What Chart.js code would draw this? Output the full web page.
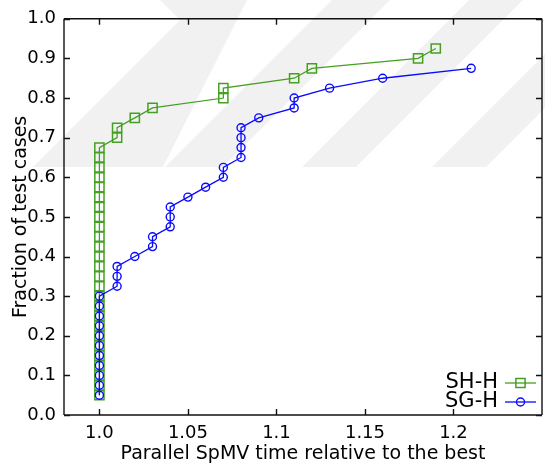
<!DOCTYPE html>
<html>
<head>
<meta charset="utf-8">
<script src="https://cdn.jsdelivr.net/npm/chart.js@4/dist/chart.umd.min.js"></script>
<style>
html, body { margin: 0; padding: 0; background: #fff; overflow: hidden; width: 545px; height: 470px; }
canvas { display: block; }
</style>
</head>
<body>
<canvas id="c" width="550" height="470"></canvas>
<script>
// ---- data ----
const seriesNames = ['SH-H', 'SG-H'];
const shX = [1.0, 1.0, 1.0, 1.0, 1.0, 1.0, 1.0, 1.0, 1.0, 1.0, 1.0, 1.0, 1.0,
             1.0, 1.0, 1.0, 1.0, 1.0, 1.0, 1.0, 1.0, 1.0, 1.0, 1.0, 1.0, 1.0,
             1.01, 1.01, 1.02, 1.03, 1.07, 1.07, 1.11, 1.12, 1.18, 1.19];
const shY = [0.05, 0.075, 0.1, 0.125, 0.15, 0.175, 0.2, 0.225, 0.25, 0.275, 0.3, 0.325, 0.35,
             0.375, 0.4, 0.425, 0.45, 0.475, 0.5, 0.525, 0.55, 0.575, 0.6, 0.625, 0.65, 0.675,
             0.7, 0.725, 0.75, 0.775, 0.8, 0.825, 0.85, 0.875, 0.9, 0.925];
const sgX = [1.0, 1.0, 1.0, 1.0, 1.0, 1.0, 1.0, 1.0, 1.0, 1.0, 1.0,
             1.01, 1.01, 1.01, 1.02, 1.03, 1.03, 1.04, 1.04, 1.04, 1.05, 1.06,
             1.07, 1.07, 1.08, 1.08, 1.08, 1.08, 1.09, 1.11, 1.11, 1.13, 1.16, 1.21];
const sgY = [0.05, 0.075, 0.1, 0.125, 0.15, 0.175, 0.2, 0.225, 0.25, 0.275, 0.3,
             0.325, 0.35, 0.375, 0.4, 0.425, 0.45, 0.475, 0.5, 0.525, 0.55, 0.575,
             0.6, 0.625, 0.65, 0.675, 0.7, 0.725, 0.75, 0.775, 0.8, 0.825, 0.85, 0.875];
const xTickValues = [1.0, 1.05, 1.1, 1.15, 1.2];
const xTickLabels = ['1.0', '1.05', '1.1', '1.15', '1.2'];
const yTickValues = [0.0, 0.1, 0.2, 0.3, 0.4, 0.5, 0.6, 0.7, 0.8, 0.9, 1.0];
const yTickLabels = ['0.0', '0.1', '0.2', '0.3', '0.4', '0.5', '0.6', '0.7', '0.8', '0.9', '1.0'];
const xTitle = 'Parallel SpMV time relative to the best';
const yTitle = 'Fraction of test cases';

// ---- style ----
const GREEN = '#45a022';
const BLUE = '#0a0aff';
const FONT = 'DejaVu Sans';

Chart.defaults.font.family = FONT;
Chart.defaults.color = '#000';

function pts(xs, ys) { return xs.map((x, i) => ({ x: x, y: ys[i] })); }

// faint watermark stripes behind the plot
const watermark = {
  id: 'watermark',
  beforeDraw(chart) {
    const ctx = chart.ctx;
    ctx.save();
    ctx.fillStyle = '#f1f1f1';
    const polys = [
      [[160, 0], [247, 0], [163, 167], [33, 167], [180, 20]],
      [[332, 0], [390, 0], [223, 167], [165, 167]],
      [[469, 0], [523, 0], [356, 167], [302, 167]],
      [[599, 0], [653, 0], [486, 167], [432, 167]]
    ];
    polys.forEach(p => {
      ctx.beginPath();
      ctx.moveTo(p[0][0], p[0][1]);
      for (let i = 1; i < p.length; i++) ctx.lineTo(p[i][0], p[i][1]);
      ctx.closePath();
      ctx.fill();
    });
    ctx.restore();
  }
};

// gnuplot-style frame with inward ticks on all four sides
const frame = {
  id: 'frame',
  afterDatasetsDraw(chart) {
    const { ctx, chartArea: a, scales } = chart;
    const xs = scales.x, ys = scales.y;
    ctx.save();
    ctx.strokeStyle = '#111';
    ctx.lineWidth = 1.4;
    ctx.beginPath();
    ctx.moveTo(a.left, a.top); ctx.lineTo(a.right, a.top);
    ctx.moveTo(a.left, a.bottom); ctx.lineTo(a.right, a.bottom);
    ctx.moveTo(a.left, a.top); ctx.lineTo(a.left, a.bottom);
    ctx.moveTo(a.right, a.top); ctx.lineTo(a.right, a.bottom);
    const tl = 6;
    xTickValues.forEach(v => {
      const px = Math.round(xs.getPixelForValue(v)) + 0.5;
      ctx.moveTo(px, a.bottom); ctx.lineTo(px, a.bottom - tl);
      ctx.moveTo(px, a.top); ctx.lineTo(px, a.top + tl);
    });
    yTickValues.forEach(v => {
      const py = Math.round(ys.getPixelForValue(v)) + 0.5;
      ctx.moveTo(a.left, py); ctx.lineTo(a.left + tl, py);
      ctx.moveTo(a.right, py); ctx.lineTo(a.right - tl, py);
    });
    ctx.stroke();
    ctx.restore();
  }
};

// gnuplot-style key in the lower right
const key = {
  id: 'key',
  afterDraw(chart) {
    const ctx = chart.ctx;
    const ds = chart.data.datasets;
    const rows = [ { d: ds[1], y: 383 }, { d: ds[0], y: 402 } ];
    ctx.save();
    ctx.font = '21px "' + FONT + '"';
    ctx.textAlign = 'right';
    ctx.textBaseline = 'middle';
    rows.forEach(r => {
      ctx.fillStyle = '#000';
      ctx.fillText(r.d.label, 498, r.y);
      ctx.strokeStyle = r.d.borderColor;
      ctx.lineWidth = r.d.borderWidth;
      ctx.beginPath();
      ctx.moveTo(505, r.y); ctx.lineTo(536, r.y);
      ctx.stroke();
      ctx.lineWidth = r.d.pointBorderWidth;
      ctx.fillStyle = 'rgba(0,0,0,0)';
      Chart.helpers.drawPoint(ctx, {
        pointStyle: r.d.pointStyle, radius: r.d.pointRadius, rotation: 0, borderWidth: r.d.pointBorderWidth
      }, 520.5, r.y);
    });
    ctx.restore();
  }
};

new Chart(document.getElementById('c'), {
  type: 'scatter',
  data: {
    datasets: [
      {
        label: seriesNames[1],
        data: pts(sgX, sgY),
        showLine: true,
        borderColor: BLUE,
        backgroundColor: 'rgba(0,0,0,0)',
        borderWidth: 1.3,
        pointStyle: 'circle',
        pointRadius: 4.0,
        pointBorderWidth: 1.4,
        pointBorderColor: BLUE,
        pointBackgroundColor: 'rgba(0,0,0,0)',
        tension: 0,
        order: 0
      },
      {
        label: seriesNames[0],
        data: pts(shX, shY),
        showLine: true,
        borderColor: GREEN,
        backgroundColor: 'rgba(0,0,0,0)',
        borderWidth: 1.3,
        pointStyle: 'rect',
        pointRadius: 6.5,
        pointBorderWidth: 1.5,
        pointBorderColor: GREEN,
        pointBackgroundColor: 'rgba(0,0,0,0)',
        tension: 0,
        order: 1
      }
    ]
  },
  options: {
    responsive: false,
    devicePixelRatio: 1,
    animation: false,
    layout: { padding: { top: 15, right: 0, left: 0, bottom: 0 } },
    plugins: { legend: { display: false }, tooltip: { enabled: false } },
    scales: {
      x: {
        type: 'linear',
        min: 0.98,
        max: 1.25,
        grid: { display: false, drawTicks: false },
        border: { display: false },
        afterBuildTicks(s) { s.ticks = xTickValues.map(v => ({ value: v })); },
        afterFit(s) { s.height = 55; },
        ticks: {
          padding: 8,
          font: { size: 18 },
          color: '#000',
          maxRotation: 0,
          autoSkip: false,
          callback: (v) => { const i = xTickValues.findIndex(t => Math.abs(t - v) < 1e-9); return i >= 0 ? xTickLabels[i] : ''; }
        },
        title: {
          display: true,
          text: xTitle,
          font: { size: 19 },
          color: '#000',
          padding: { top: 0, bottom: 5 }
        }
      },
      y: {
        type: 'linear',
        min: 0,
        max: 1,
        grid: { display: false, drawTicks: false },
        border: { display: false },
        afterBuildTicks(s) { s.ticks = yTickValues.map(v => ({ value: v })); },
        afterFit(s) { s.width = 64; },
        ticks: {
          padding: 8,
          font: { size: 18 },
          color: '#000',
          autoSkip: false,
          callback: (v) => { const i = yTickValues.findIndex(t => Math.abs(t - v) < 1e-9); return i >= 0 ? yTickLabels[i] : ''; }
        },
        title: {
          display: true,
          text: yTitle,
          font: { size: 19 },
          color: '#000',
          padding: { top: 10, bottom: 0 }
        }
      }
    }
  },
  plugins: [watermark, frame, key]
});
</script>
</body>
</html>
